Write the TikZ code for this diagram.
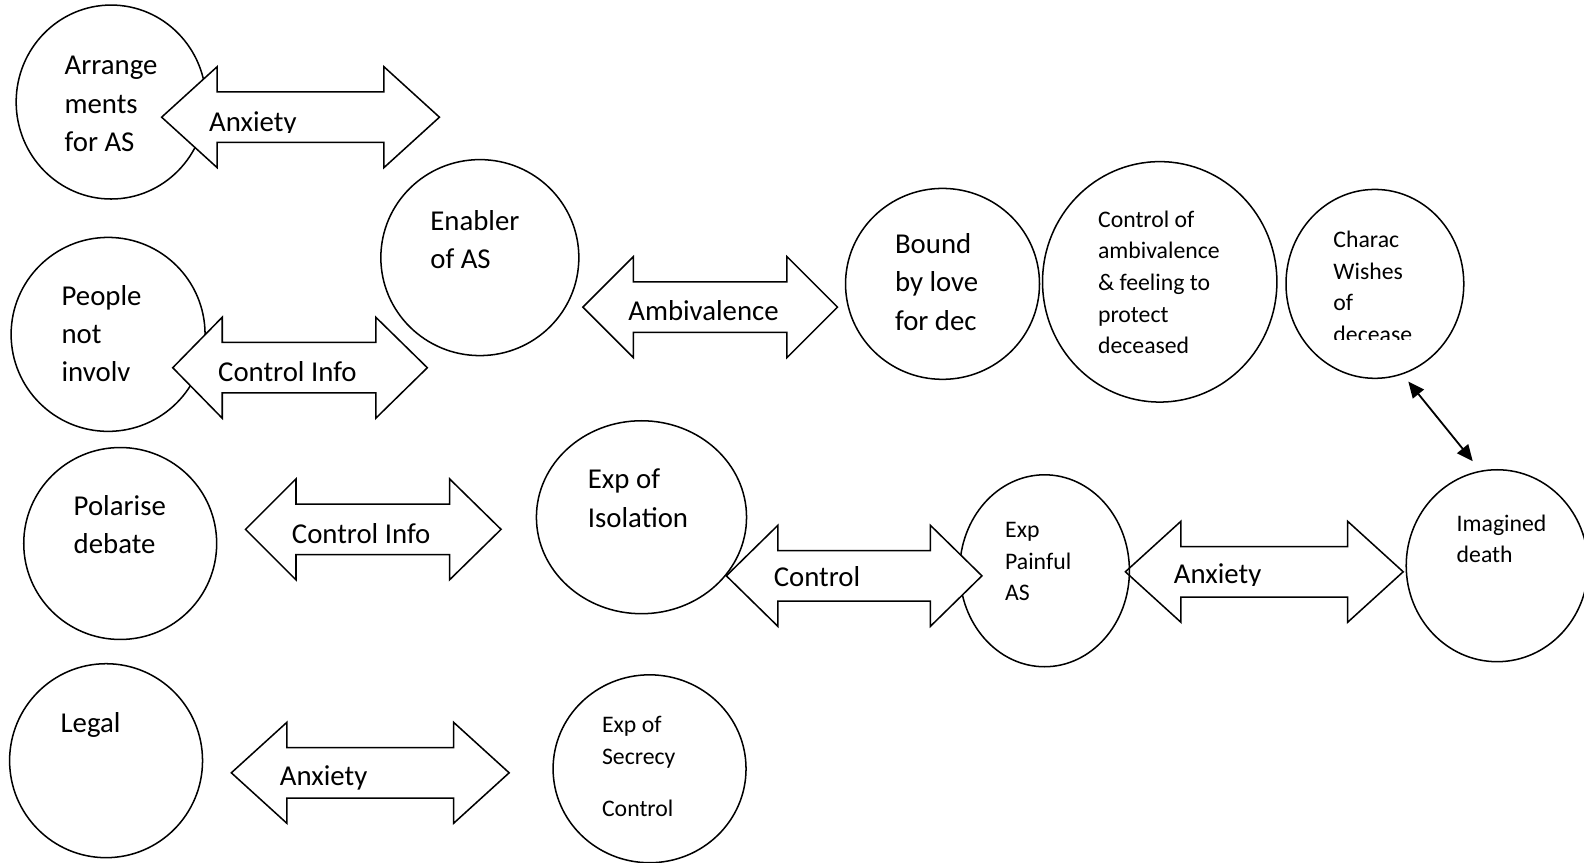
\documentclass[tikz,border=0pt]{standalone}
\usepackage{fontspec}
\setmainfont{Carlito}
\usetikzlibrary{arrows.meta,shapes.geometric}

% text sizes used in the diagram
\newcommand\bigtxt{\fontsize{28.5}{38}\selectfont}
\newcommand\smalltxt{\fontsize{23.5}{31.3}\selectfont}
% left-aligned block of lines; the node's base is the first baseline
\newcommand\txtlines[2]{\parbox[t]{300pt}{#1\raggedright #2}}
% wide two-headed block arrow: left tip, left shoulder, right shoulder, right tip, centre y
\newcommand\blockarrow[5]{%
  \draw[blockarr] (#1,#5) -- (#2,#5-50) -- (#2,#5-25) -- (#3,#5-25) -- (#3,#5-50)
    -- (#4,#5) -- (#3,#5+50) -- (#3,#5+25) -- (#2,#5+25) -- (#2,#5+50) -- cycle;}

\tikzset{
  bub/.style 2 args={ellipse, draw, line width=1.5pt, minimum width=#1pt,
    minimum height=#2pt, inner sep=0pt},
  blockarr/.style={draw, fill=white, line width=1.5pt, line join=miter},
  txt/.style={anchor=base west, inner sep=0pt, outer sep=0pt},
  link/.style={{Triangle[length=16pt,width=14pt]}-{Triangle[length=16pt,width=14pt]},
    line width=1.8pt},
}

\begin{document}
\begin{tikzpicture}[x=1pt,y=-1pt]
\useasboundingbox (0,0) rectangle (1568,854);
\clip (0,0) rectangle (1568,854);

% --- bubbles ---
\node[bub={188}{192}] (arr) at (110,101) {};
\node[bub={196}{194}] (enab) at (475,255) {};
\node[bub={192}{192}] (peop) at (107,331) {};
\node[bub={192}{189}] (bound) at (933,281) {};
\node[bub={232}{238}] (ctrl) at (1148,279) {};
\node[bub={176}{187}] (charac) at (1361,281) {};
\node[bub={191}{190}] (polar) at (119,538) {};
\node[bub={180}{190}] (imag) at (1482,560) {};
\node[bub={191}{192}] (legal) at (105,753) {};
\node[bub={191}{186}] (secr) at (643,761) {};

% --- block arrows and the bubbles they overlap ---
\blockarrow{160}{215}{380}{435}{116}
\blockarrow{171}{220}{372}{423}{364}
\blockarrow{577}{627}{779}{829}{304}
\blockarrow{243}{293}{445}{496}{524}
\blockarrow{1114}{1169}{1334}{1389}{566}
\node[bub={168}{190}] (painful) at (1034,565) {};
\blockarrow{719}{770}{921}{972}{570}
\node[bub={208}{191}] (isol) at (635,512) {};
\blockarrow{229}{284}{449}{504}{765}

% --- link between the two right-hand bubbles ---
\draw[link, shorten <=9pt, shorten >=12pt] (charac.287.6) -- (imag.100);

% --- texts in bubbles ---
\node[txt] (tArr) at (64,74) {\txtlines{\bigtxt}{Arrange\\ments\\for AS}};
\node[txt] (tEnab) at (426,228) {\txtlines{\bigtxt}{Enabler\\of AS}};
\node[txt] (tPeop) at (61,302) {\txtlines{\bigtxt}{People\\not\\involv}};
\node[txt] (tBound) at (886,251) {\txtlines{\bigtxt}{Bound\\by love\\for dec}};
\node[txt] (tCtrl) at (1087,225) {\txtlines{\smalltxt}{Control of\\ambivalence\\\& feeling to\\protect\\deceased}};
\begin{scope}
  \clip (1300,200) rectangle (1440,336);
  \node[txt] (tChar) at (1320,245) {\txtlines{\smalltxt}{Charac\\Wishes\\of\\decease}};
\end{scope}
\node[txt] (tPol) at (73,510) {\txtlines{\bigtxt}{Polarise\\debate}};
\node[txt] (tIso) at (582,484) {\txtlines{\bigtxt}{Exp of\\Isolation}};
\node[txt] (tPain) at (995,532) {\txtlines{\smalltxt}{Exp\\Painful\\AS}};
\node[txt] (tImag) at (1442,526) {\txtlines{\smalltxt}{Imagined\\death}};
\node[txt] (tLegal) at (60,725) {\txtlines{\bigtxt}{Legal}};
\node[txt] (tSecr) at (596,725) {\txtlines{\smalltxt}{Exp of\\Secrecy\\[21pt]Control}};

% --- texts in block arrows ---
\begin{scope}
  \clip (200,90) rectangle (320,131);
  \node[txt] (lA1) at (207,130) {\bigtxt Anxiety};
\end{scope}
\node[txt] (lA2) at (216,378) {\bigtxt Control Info};
\node[txt] (lA3) at (622,317) {\bigtxt Ambivalence};
\node[txt] (lA4) at (289,538) {\bigtxt Control Info};
\node[txt] (lA5) at (766,581) {\bigtxt Control};
\begin{scope}
  \clip (1150,540) rectangle (1280,580);
  \node[txt] (lA6) at (1162,578) {\bigtxt Anxiety};
\end{scope}
\node[txt] (lA7) at (277,778) {\bigtxt Anxiety};
\end{tikzpicture}
\end{document}
